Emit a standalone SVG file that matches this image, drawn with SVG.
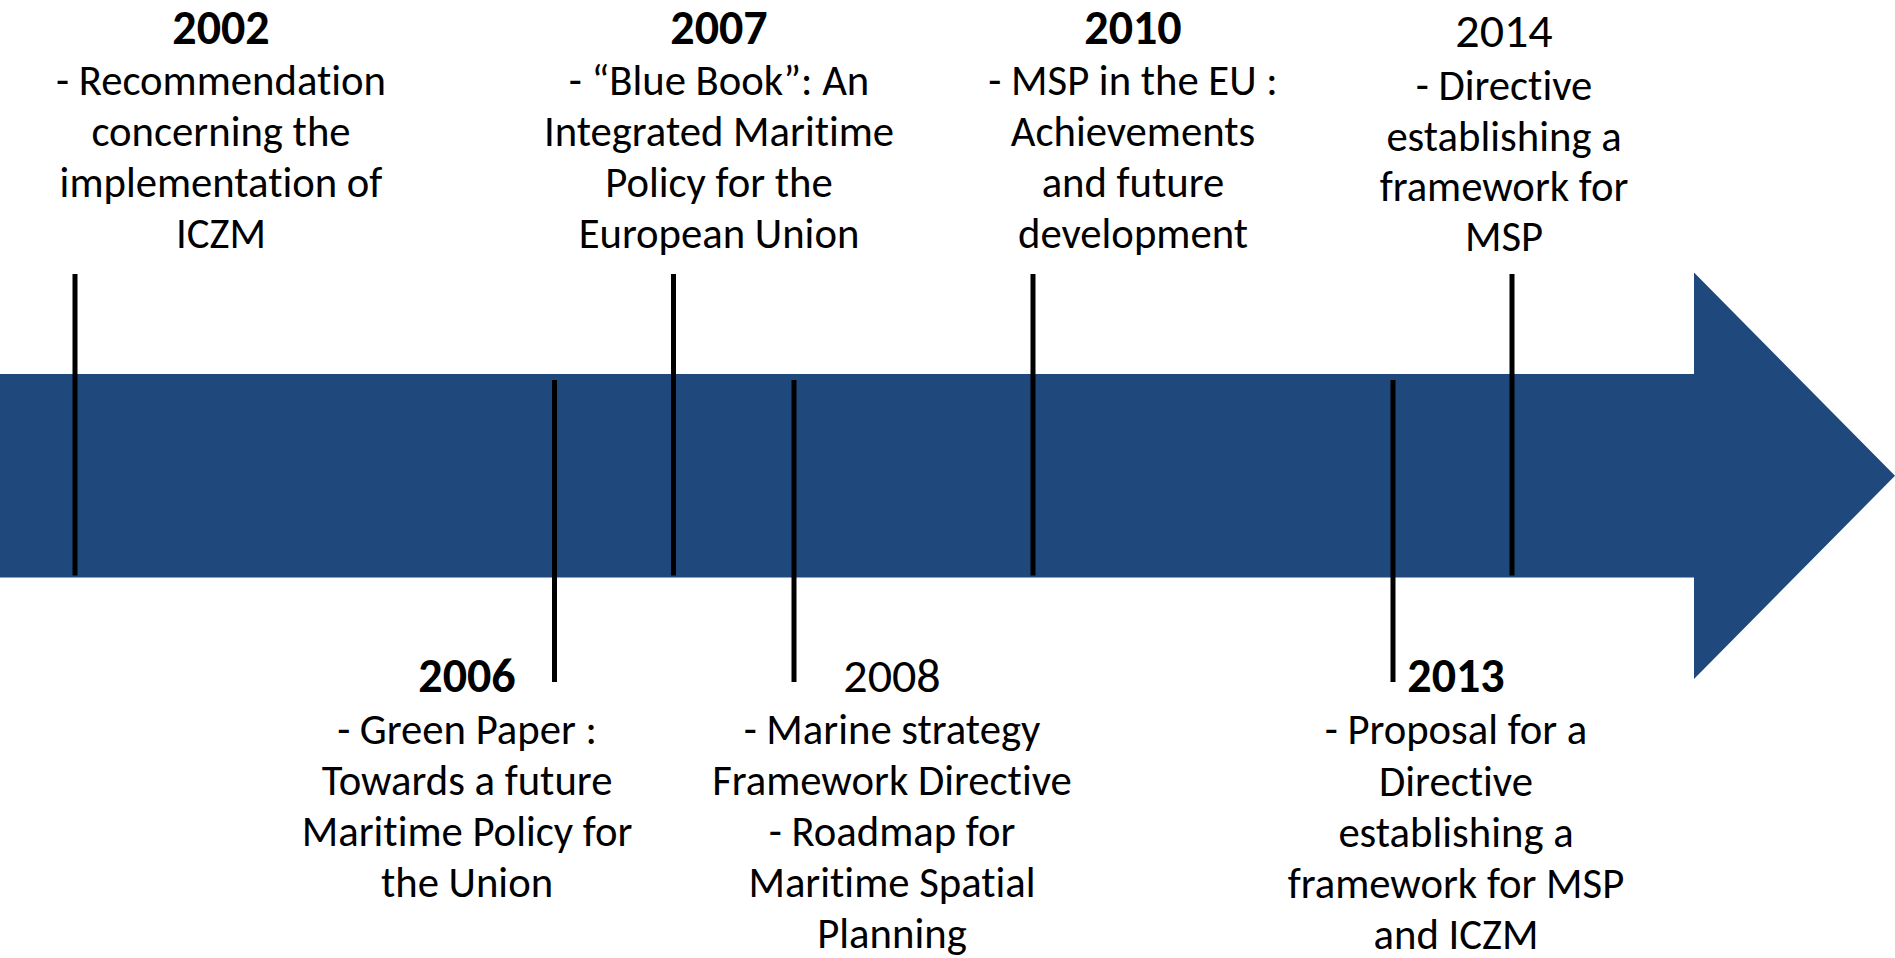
<svg xmlns="http://www.w3.org/2000/svg" width="1895" height="958" viewBox="0 0 1895 958">
<style>
text { font-family: Carlito, Lato, "Open Sans", sans-serif; fill: #000; text-anchor: middle; font-variant-ligatures: none; font-feature-settings: "liga" 0, "clig" 0; }
.yr { font-size: 48px; font-weight: bold; }
.yrn { font-size: 48px; }
.body { font-size: 42.7px; }
.tick { stroke: #000; stroke-width: 5; }
</style>
<rect width="1895" height="958" fill="#fff"/>
<g id="timeline-arrow">
<path d="M0 374 H1694 V272.5 L1895 475.75 L1694 679 V577.5 H0 Z" fill="#1F497D"/>
</g>
<g id="connectors">
<line class="tick" x1="75" y1="274" x2="75" y2="575.5"/>
<line class="tick" x1="554.5" y1="380" x2="554.5" y2="682"/>
<line class="tick" x1="673.5" y1="274" x2="673.5" y2="575.5"/>
<line class="tick" x1="794" y1="380" x2="794" y2="682"/>
<line class="tick" x1="1033" y1="274" x2="1033" y2="575.5"/>
<line class="tick" x1="1393" y1="380" x2="1393" y2="682"/>
<line class="tick" x1="1512" y1="274" x2="1512" y2="575.5"/>
</g>
<g id="event-2002">
<text class="yr" x="221" y="43.5">2002</text>
<text class="body" x="221" y="95">- Recommendation</text>
<text class="body" x="221" y="146">concerning the</text>
<text class="body" x="221" y="197">implementation of</text>
<text class="body" x="221" y="248">ICZM</text>
</g>
<g id="event-2006">
<text class="yr" x="467" y="692">2006</text>
<text class="body" x="467" y="743.5">- Green Paper :</text>
<text class="body" x="467" y="795">Towards a future</text>
<text class="body" x="467" y="846">Maritime Policy for</text>
<text class="body" x="467" y="897">the Union</text>
</g>
<g id="event-2007">
<text class="yr" x="719" y="43.5">2007</text>
<text class="body" x="719" y="95">- “Blue Book”: An</text>
<text class="body" x="719" y="146">Integrated Maritime</text>
<text class="body" x="719" y="197">Policy for the</text>
<text class="body" x="719" y="248">European Union</text>
</g>
<g id="event-2008">
<text class="yrn" x="892" y="692">2008</text>
<text class="body" x="892" y="743.5">- Marine strategy</text>
<text class="body" x="892" y="795">Framework Directive</text>
<text class="body" x="892" y="846">- Roadmap for</text>
<text class="body" x="892" y="897">Maritime Spatial</text>
<text class="body" x="892" y="948">Planning</text>
</g>
<g id="event-2010">
<text class="yr" x="1133" y="43.5">2010</text>
<text class="body" x="1133" y="95">- MSP in the EU :</text>
<text class="body" x="1133" y="146">Achievements</text>
<text class="body" x="1133" y="197">and future</text>
<text class="body" x="1133" y="248">development</text>
</g>
<g id="event-2013">
<text class="yr" x="1456" y="692">2013</text>
<text class="body" x="1456" y="744">- Proposal for a</text>
<text class="body" x="1456" y="795.5">Directive</text>
<text class="body" x="1456" y="846.5">establishing a</text>
<text class="body" x="1456" y="897.5">framework for MSP</text>
<text class="body" x="1456" y="948.5">and ICZM</text>
</g>
<g id="event-2014">
<text class="yrn" x="1504" y="46.5">2014</text>
<text class="body" x="1504" y="99.5">- Directive</text>
<text class="body" x="1504" y="150.5">establishing a</text>
<text class="body" x="1504" y="201">framework for</text>
<text class="body" x="1504" y="251">MSP</text>
</g>
</svg>
